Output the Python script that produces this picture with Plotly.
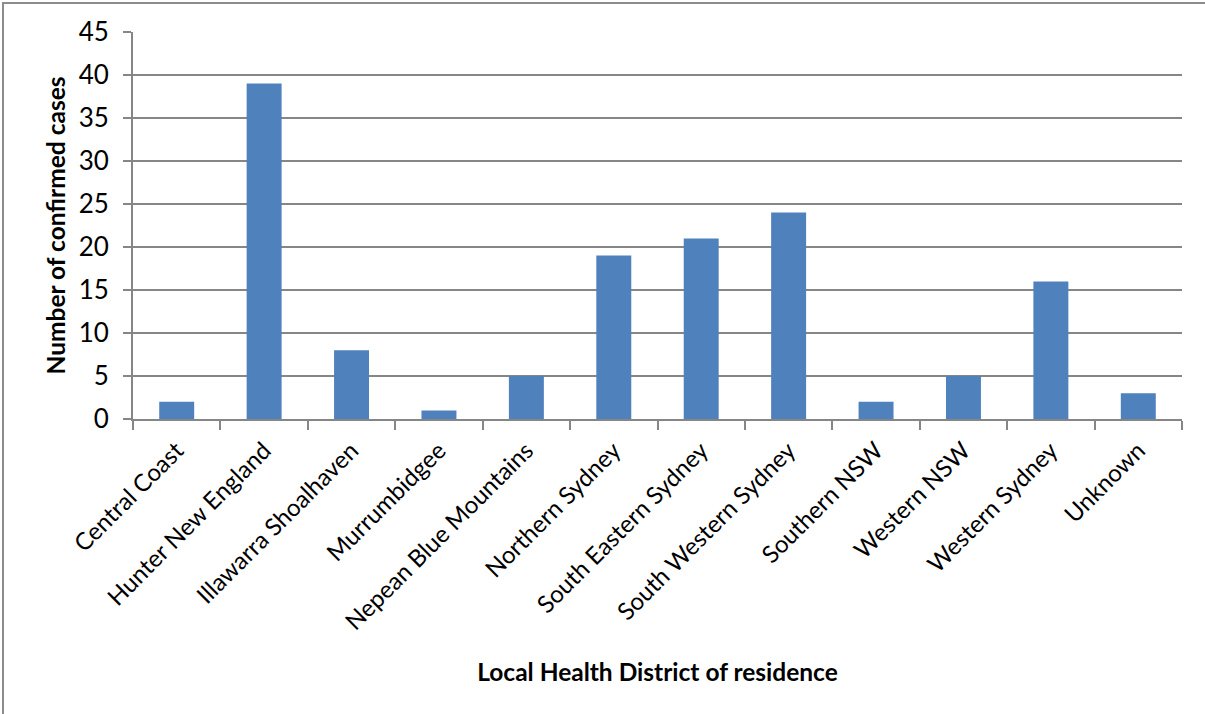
import plotly.graph_objects as go

categories = ["Central Coast", "Hunter New England", "Illawarra Shoalhaven", "Murrumbidgee",
              "Nepean Blue Mountains", "Northern Sydney", "South Eastern Sydney",
              "South Western Sydney", "Southern NSW", "Western NSW", "Western Sydney", "Unknown"]
cases = [2, 39, 8, 1, 5, 19, 21, 24, 2, 5, 16, 3]
y_ticks = [0, 5, 10, 15, 20, 25, 30, 35, 40, 45]

W, H = 1205, 714
L, R, T, B = 133, 23, 32, 295
pw, ph = W - L - R, H - T - B

def px(x):
    return (x - L) / pw

def py(y):
    return (H - B - y) / ph

fig = go.Figure(go.Bar(x=categories, y=cases, marker=dict(color="#4F81BD", line=dict(width=0))))

FONT = "Lato, 'Open Sans', sans-serif"
fig.update_layout(
    width=W, height=H,
    margin=dict(l=L, r=R, t=T, b=B),
    paper_bgcolor="white", plot_bgcolor="white",
    bargap=0.6,
    showlegend=False,
    font=dict(family=FONT, size=24, color="black"),
    xaxis=dict(
        type="category", tickson="boundaries", ticks="outside", ticklen=9, tickcolor="#868686",
        tickwidth=2, showline=True, linecolor="#868686", linewidth=2, showgrid=False,
        tickangle=-45, tickfont=dict(size=24, family=FONT), ticklabelstandoff=6,
        title=dict(text="<b>Local Health District of residence</b>", font=dict(size=24.5, family=FONT), standoff=30),
    ),
    yaxis=dict(
        range=[0, 45], tickvals=y_ticks, ticks="outside", ticklen=8, tickcolor="#868686", tickwidth=2,
        showline=True, linecolor="#868686", linewidth=2, showgrid=True, gridcolor="#868686", gridwidth=1.5,
        zeroline=False, tickfont=dict(size=26, family=FONT), ticklabelstandoff=9,
        title=dict(text="<b>Number of confirmed cases</b>", font=dict(size=24.5, family=FONT), standoff=6),
    ),
    shapes=[
        dict(type="rect", xref="paper", yref="paper",
             x0=px(3), x1=px(W + 20), y0=py(H + 20), y1=py(3),
             line=dict(color="#8c8c8c", width=2), fillcolor="rgba(0,0,0,0)", layer="below"),
    ],
)

fig.write_html("out.html")
